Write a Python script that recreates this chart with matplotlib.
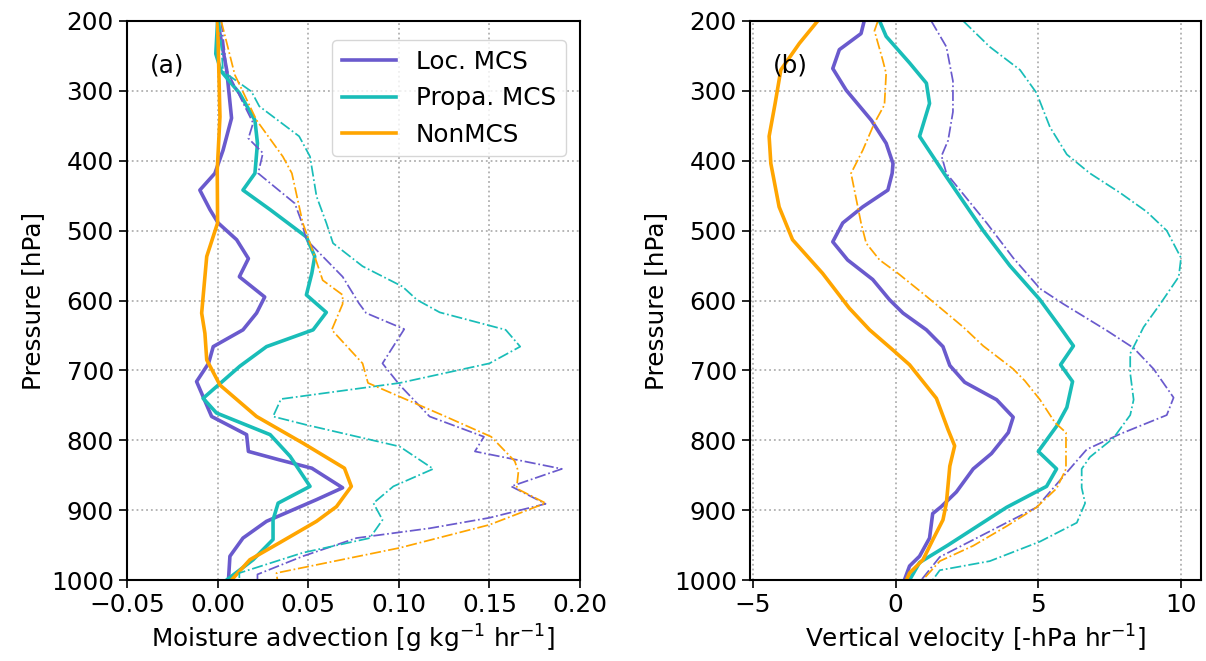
import matplotlib
matplotlib.use("Agg")
import matplotlib.pyplot as plt

# Colours
LOC_COLOR = "#6A5ACD"
PROP_COLOR = "#19BDB8"
NON_COLOR = "#FFA500"

# ---- panel (a): moisture advection, solid lines ----
loc_a_p = [200, 270, 339, 385, 418, 442, 470, 489, 513, 540, 566, 595, 618, 642, 666,
           690, 716, 766, 792, 816, 828, 840, 868, 885, 916, 940, 966, 1000]
loc_a_x = [0.000, 0.005, 0.0077, 0.003, -0.0015, -0.0098, -0.0042, 0.0003, 0.0105, 0.017,
           0.012, 0.026, 0.0215, 0.014, -0.0024, -0.005, -0.0116, -0.0033, 0.016, 0.017,
           0.034, 0.052, 0.069, 0.0546, 0.027, 0.014, 0.0068, 0.006]

prop_a_p = [200, 247, 272, 303, 342, 375, 418, 442, 470, 509, 537, 561, 592, 617, 642,
            666, 694, 740, 761, 792, 823, 866, 890, 914, 942, 971, 1000]
prop_a_x = [0.000, -0.001, 0.002, 0.012, 0.0206, 0.022, 0.0206, 0.014, 0.029, 0.049,
            0.0536, 0.052, 0.049, 0.060, 0.0527, 0.027, 0.0123, -0.008, -0.0006, 0.029,
            0.040, 0.051, 0.0334, 0.0306, 0.0306, 0.0196, 0.005]

non_a_p = [200, 337, 413, 489, 537, 618, 647, 685, 721, 766, 804, 840, 866, 895, 916,
           947, 971, 1000]
non_a_x = [0.000, 0.0013, -0.0002, 0.0, -0.006, -0.0088, -0.007, -0.006, 0.0013, 0.0215,
           0.047, 0.070, 0.0738, 0.0656, 0.0546, 0.034, 0.0178, 0.0077]

# ---- panel (a): dash-dot lines ----
loc_a_dd_p = [200, 270, 346, 368, 389, 418, 461, 487, 513, 566, 604, 618, 641, 690, 721,
              766, 795, 816, 841, 866, 891, 911, 926, 940, 966, 992, 1000]
loc_a_dd_x = [0.002, 0.005, 0.0196, 0.017, 0.025, 0.0224, 0.0426, 0.0463, 0.049, 0.069,
              0.078, 0.082, 0.103, 0.091, 0.1005, 0.117, 0.147, 0.142, 0.190, 0.162,
              0.181, 0.150, 0.117, 0.0766, 0.047, 0.022, 0.022]

prop_a_dd_p = [200, 272, 301, 322, 365, 394, 451, 489, 518, 551, 580, 599, 617, 642, 666,
               690, 718, 741, 766, 778, 809, 841, 866, 890, 914, 940, 961, 990, 1000]
prop_a_dd_x = [0.001, 0.003, 0.0187, 0.023, 0.045, 0.051, 0.0546, 0.060, 0.0637, 0.080,
               0.102, 0.110, 0.1226, 0.159, 0.167, 0.150, 0.1005, 0.035, 0.0306, 0.049,
               0.1005, 0.119, 0.097, 0.086, 0.091, 0.084, 0.047, 0.012, 0.012]

non_a_dd_p = [200, 277, 342, 394, 418, 489, 537, 571, 592, 605, 642, 690, 718, 764, 795,
              830, 845, 869, 890, 921, 954, 990, 1000]
non_a_dd_x = [0.002, 0.0095, 0.0215, 0.036, 0.041, 0.047, 0.0536, 0.058, 0.069, 0.069,
              0.063, 0.080, 0.083, 0.124, 0.151, 0.164, 0.166, 0.165, 0.181, 0.150,
              0.1005, 0.0325, 0.033]

# ---- panel (b): vertical velocity, solid lines ----
loc_b_p = [200, 218, 241, 268, 299, 342, 375, 404, 418, 442, 466, 489, 516, 542, 570,
           599, 618, 642, 666, 693, 717, 742, 767, 789, 819, 841, 874, 895, 905, 940,
           966, 980, 1000]
loc_b_x = [-1.1, -1.21, -1.97, -2.2, -1.73, -0.85, -0.33, -0.09, -0.12, -0.27, -1.15,
           -1.85, -2.2, -1.68, -0.8, -0.21, 0.26, 1.08, 1.66, 1.9, 2.42, 3.54, 4.12,
           3.95, 3.36, 2.72, 2.13, 1.6, 1.3, 1.19, 0.84, 0.49, 0.31]

prop_b_p = [200, 222, 260, 289, 318, 365, 423, 500, 550, 599, 638, 665, 692, 716, 753,
            780, 816, 841, 866, 896, 950, 975, 1000]
prop_b_x = [-0.56, -0.33, 0.49, 1.08, 1.19, 0.84, 1.78, 3.07, 4.0, 5.06, 5.76, 6.23,
            5.78, 6.2, 6.0, 5.64, 5.0, 5.64, 5.29, 3.89, 1.84, 0.84, 0.49]

non_b_p = [200, 232, 270, 318, 365, 404, 466, 513, 561, 611, 642, 671, 692, 740, 785,
           808, 837, 890, 914, 942, 971, 990, 1000]
non_b_x = [-2.73, -3.37, -4.02, -4.22, -4.43, -4.37, -4.08, -3.61, -2.56, -1.62, -0.91,
           -0.09, 0.49, 1.43, 1.84, 2.07, 1.9, 1.78, 1.66, 1.31, 0.96, 0.49, 0.38]

# ---- panel (b): dash-dot lines ----
loc_b_dd_p = [200, 237, 286, 330, 371, 393, 418, 489, 539, 583, 605, 643, 668, 698, 739,
              764, 791, 813, 835, 863, 896, 923, 967, 1000]
loc_b_dd_x = [1.25, 1.78, 2.01, 2.01, 1.84, 1.61, 1.78, 3.19, 4.12, 5.06, 5.88, 7.4,
              8.34, 9.04, 9.74, 9.5, 7.87, 6.7, 6.23, 5.64, 4.94, 3.65, 1.55, 0.9]

prop_b_dd_p = [200, 237, 270, 303, 352, 391, 418, 446, 473, 500, 539, 566, 605, 638, 676,
               704, 742, 764, 797, 824, 841, 868, 890, 918, 945, 973, 986, 1000]
prop_b_dd_x = [2.37, 3.3, 4.36, 4.94, 5.41, 6.0, 6.81, 7.87, 8.8, 9.5, 10.0, 9.92, 9.27,
               8.69, 8.22, 8.22, 8.34, 8.22, 7.63, 6.81, 6.52, 6.52, 6.64, 6.35, 5.06,
               3.3, 1.55, 1.3]

non_b_dd_p = [200, 214, 256, 275, 320, 346, 385, 418, 489, 518, 542, 561, 590, 610, 638,
              665, 698, 715, 742, 775, 789, 841, 869, 896, 923, 951, 973, 1000]
non_b_dd_x = [-0.62, -0.74, -0.45, -0.33, -0.39, -0.74, -1.15, -1.56, -1.21, -1.03,
              -0.56, 0.08, 0.96, 1.55, 2.37, 3.07, 4.12, 4.53, 5.06, 5.59, 5.97, 5.97,
              5.64, 4.94, 3.89, 2.72, 1.55, 0.95]

labels = ["Loc. MCS", "Propa. MCS", "NonMCS"]
FS = 17.8
SOLID_LW = 2.6
DD_LW = 1.25

plt.rcParams["font.family"] = ["DejaVu Sans"]

fig = plt.figure(figsize=(12.06, 6.61), dpi=100)
ax1 = fig.add_axes([127 / 1206, 1 - 580 / 661, 453 / 1206, 559 / 661])
ax2 = fig.add_axes([750 / 1206, 1 - 580 / 661, 451 / 1206, 559 / 661])

# panel a
ax1.plot(loc_a_x, loc_a_p, color=LOC_COLOR, lw=SOLID_LW, label=labels[0])
ax1.plot(prop_a_x, prop_a_p, color=PROP_COLOR, lw=SOLID_LW, label=labels[1])
ax1.plot(non_a_x, non_a_p, color=NON_COLOR, lw=SOLID_LW, label=labels[2])
ax1.plot(loc_a_dd_x, loc_a_dd_p, color=LOC_COLOR, lw=DD_LW, ls="-.")
ax1.plot(prop_a_dd_x, prop_a_dd_p, color=PROP_COLOR, lw=DD_LW, ls="-.")
ax1.plot(non_a_dd_x, non_a_dd_p, color=NON_COLOR, lw=DD_LW, ls="-.")
ax1.set_xlim(-0.05, 0.2)
ax1.set_xticks([-0.05, 0.0, 0.05, 0.10, 0.15, 0.20])
ax1.set_xlabel("Moisture advection [g kg$^{-1}$ hr$^{-1}$]", fontsize=FS)
ax1.text(0.05, 0.92, "(a)", transform=ax1.transAxes, fontsize=FS, va="center")
ax1.legend(loc="upper right", fontsize=FS, handlelength=2.2,
           bbox_to_anchor=(0.98, 0.975), borderaxespad=0.2)

# panel b
ax2.plot(loc_b_x, loc_b_p, color=LOC_COLOR, lw=SOLID_LW)
ax2.plot(prop_b_x, prop_b_p, color=PROP_COLOR, lw=SOLID_LW)
ax2.plot(non_b_x, non_b_p, color=NON_COLOR, lw=SOLID_LW)
ax2.plot(loc_b_dd_x, loc_b_dd_p, color=LOC_COLOR, lw=DD_LW, ls="-.")
ax2.plot(prop_b_dd_x, prop_b_dd_p, color=PROP_COLOR, lw=DD_LW, ls="-.")
ax2.plot(non_b_dd_x, non_b_dd_p, color=NON_COLOR, lw=DD_LW, ls="-.")
ax2.set_xlim(-5.1, 10.7)
ax2.set_xticks([-5, 0, 5, 10])
ax2.set_xlabel("Vertical velocity [-hPa hr$^{-1}$]", fontsize=FS)
ax2.text(0.05, 0.92, "(b)", transform=ax2.transAxes, fontsize=FS, va="center")

for ax in (ax1, ax2):
    ax.set_ylim(1000, 200)
    ax.set_yticks(range(200, 1001, 100))
    ax.set_ylabel("Pressure [hPa]", fontsize=FS)
    ax.tick_params(labelsize=FS, length=6, width=1.2)
    ax.grid(True, ls=":", color="#b0b0b0", lw=1.3)
    for s in ax.spines.values():
        s.set_linewidth(1.5)

fig.savefig("out.png", dpi=100)
